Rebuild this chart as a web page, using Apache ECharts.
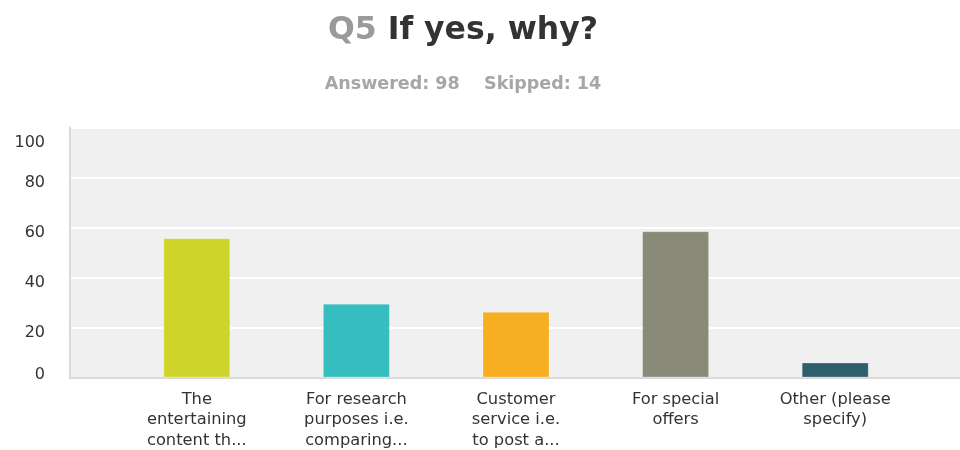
<!DOCTYPE html>
<html>
<head>
<meta charset="utf-8">
<title>Q5 If yes, why?</title>
<script src="https://cdn.jsdelivr.net/npm/echarts@6/dist/echarts.min.js"></script>
<style>
  html, body { margin: 0; padding: 0; background: #ffffff; }
  #chart { width: 960px; height: 450px; }
</style>
</head>
<body>
<div id="chart"></div>
<script>
// Response categories (labels wrapped as they appear under the bars)
const categories = [
  'The\nentertaining\ncontent th...',
  'For research\npurposes i.e.\ncomparing...',
  'Customer\nservice i.e.\nto post a...',
  'For special\noffers',
  'Other (please\nspecify)'
];
// Share of respondents choosing each answer (%)
const values = [55.7, 29.5, 26.3, 58.5, 6];
const barColors = ['#cfd42a', '#35bdbf', '#f7ae20', '#898a78', '#2f5f6d'];
// Value axis ticks
const yTicks = [0, 20, 40, 60, 80, 100];

const titleText = 'Q5';
const questionText = 'If yes, why?';
const answered = 98;
const skipped = 14;

const FONT = 'DejaVu Sans';
const chart = echarts.init(document.getElementById('chart'), null, { renderer: 'canvas' });

const yMin = yTicks[0];
const yMax = yTicks[yTicks.length - 1];
const yStep = yTicks[1] - yTicks[0];

const tickLabelStyle = { fontFamily: FONT, fontSize: 16, color: '#333333' };

chart.setOption({
  animation: false,
  backgroundColor: '#ffffff',
  title: [
    {
      text: '{q|' + titleText + '}{t| ' + questionText + '}',
      left: 458,
      top: 10,
      textAlign: 'center',
      textStyle: {
        rich: {
          q: { fontFamily: FONT, fontWeight: 'bold', fontSize: 31.5, color: '#9a9a9a' },
          t: { fontFamily: FONT, fontWeight: 'bold', fontSize: 31.5, color: '#333333' }
        }
      }
    },
    {
      text: 'Answered: ' + answered + '    Skipped: ' + skipped,
      left: 458,
      top: 70,
      textAlign: 'center',
      textStyle: { fontFamily: FONT, fontWeight: 'bold', fontSize: 17.5, color: '#a6a6a6' }
    }
  ],
  grid: [
    // plotting panel (background, grid lines, value labels)
    {
      left: 70, right: 0, top: 127.5, bottom: 72.5, outerBoundsMode: 'none',
      show: true, backgroundColor: '#f0f0f0', borderWidth: 0
    },
    // bar area, inset from the panel edges
    { left: 117, right: 45, top: 127.5, bottom: 72.5, outerBoundsMode: 'none' }
  ],
  xAxis: [
    {
      gridIndex: 0, type: 'value', min: 0, max: 1,
      axisLine: { show: true, onZero: false, lineStyle: { color: '#dadada', width: 2 } },
      axisTick: { show: false }, axisLabel: { show: false }, splitLine: { show: false }
    },
    {
      gridIndex: 1, type: 'category', data: categories,
      axisLine: { show: false }, axisTick: { show: false },
      axisLabel: {
        interval: 0, margin: 12,
        fontFamily: FONT, fontSize: 16.3, lineHeight: 20.5, color: '#333333', align: 'center'
      }
    }
  ],
  yAxis: [
    {
      gridIndex: 0, type: 'value', min: yMin, max: yMax, interval: yStep,
      axisLine: { show: true, lineStyle: { color: '#dadada', width: 2 } },
      axisTick: { show: false },
      axisLabel: {
        margin: 25,
        formatter: function (v) {
          const key = v === yMin ? 'low' : (v === yMax ? 'high' : 'mid');
          return '{' + key + '|' + v + '}';
        },
        rich: {
          low: Object.assign({ padding: [0, 0, 6, 0] }, tickLabelStyle),
          mid: Object.assign({ padding: [10, 0, 0, 0] }, tickLabelStyle),
          high: Object.assign({ padding: [30, 0, 0, 0] }, tickLabelStyle)
        }
      },
      splitLine: { show: true, lineStyle: { color: '#ffffff', width: 2 } }
    },
    {
      gridIndex: 1, type: 'value', min: yMin, max: yMax, interval: yStep,
      axisLine: { show: false }, axisTick: { show: false }, axisLabel: { show: false },
      splitLine: { show: false }
    }
  ],
  series: [
    {
      type: 'bar',
      xAxisIndex: 1,
      yAxisIndex: 1,
      barWidth: 67,
      data: values.map((v, i) => ({
        value: v,
        itemStyle: { color: barColors[i], borderColor: 'rgba(255,255,255,0.25)', borderWidth: 1 }
      }))
    }
  ]
});
</script>
</body>
</html>
